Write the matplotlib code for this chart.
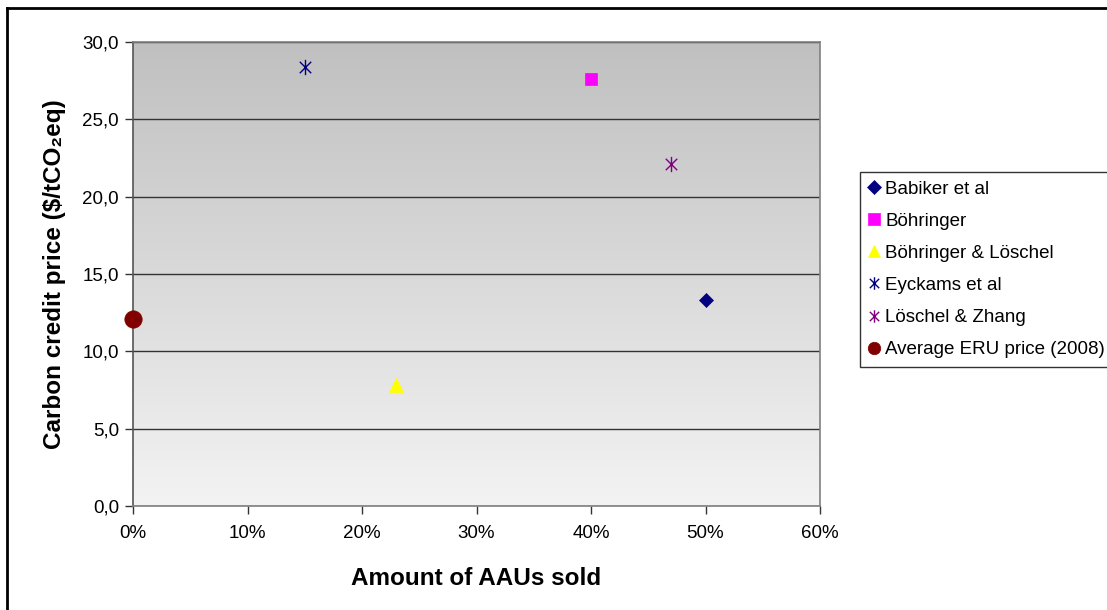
import numpy as np
import matplotlib.pyplot as plt
from matplotlib.lines import Line2D
from matplotlib.path import Path
from matplotlib.ticker import FuncFormatter, PercentFormatter

plt.rcParams['font.family'] = ['Liberation Sans', 'DejaVu Sans']

# data
series = ['Babiker et al', 'Böhringer', 'Böhringer & Löschel',
          'Eyckams et al', 'Löschel & Zhang', 'Average ERU price (2008)']
amount_sold = [0.50, 0.40, 0.23, 0.15, 0.47, 0.00]
credit_price = [13.3, 27.6, 7.8, 28.4, 22.1, 12.1]

# Excel style star: vertical bar plus an X
star = Path([(0, -1), (0, 1), (-0.75, -0.75), (0.75, 0.75), (-0.75, 0.75), (0.75, -0.75)],
            [Path.MOVETO, Path.LINETO] * 3)

colors = ['#000080', '#ff00ff', '#ffff00', '#000080', '#800080', '#800000']
markers = ['D', 's', '^', star, star, 'o']
sizes = [7.5, 8, 10, 11, 11, 12.5]
leg_sizes = [7, 8, 9, 9, 9, 9]

fig = plt.figure(figsize=(11.07, 6.1), dpi=100)
ax = fig.add_axes([133 / 1107, 1 - 506 / 610, 687 / 1107, 464 / 610])

# gradient background
grad = np.linspace(0, 1, 256).reshape(-1, 1)
ax.imshow(grad, extent=[0, 0.6, 0, 30], aspect='auto', origin='lower',
          cmap=plt.matplotlib.colors.LinearSegmentedColormap.from_list(
              'g', ['#f3f3f3', '#c0c0c0']), zorder=0)

for s, xv, yv, c, m, ms in zip(series, amount_sold, credit_price, colors, markers, sizes):
    ax.plot([xv], [yv], linestyle='none', marker=m, color=c, markersize=ms,
            markeredgewidth=1.0 if isinstance(m, Path) else 0.5,
            markeredgecolor=c, label=s, zorder=5, clip_on=False)

ax.set_xlim(0, 0.6)
ax.set_ylim(0, 30)
ax.set_xticks(np.arange(0, 0.61, 0.1))
ax.set_yticks(np.arange(0, 31, 5))
ax.xaxis.set_major_formatter(PercentFormatter(1.0, decimals=0))
ax.yaxis.set_major_formatter(FuncFormatter(lambda v, p: f'{v:.1f}'.replace('.', ',')))
ax.tick_params(axis='both', direction='out', length=6, width=1, labelsize=13.5,
               color='#333333')
ax.tick_params(axis='x', pad=8)
ax.tick_params(axis='y', pad=4)
ax.grid(axis='y', color='#333333', linewidth=1)
ax.set_axisbelow(True)
for sp in ax.spines.values():
    sp.set_color('#808080')
    sp.set_linewidth(1.2)
ax.spines['left'].set_color('#555555')

ax.set_xlabel('Amount of AAUs sold', fontsize=17.5, fontweight='bold', labelpad=18)
ax.set_ylabel('Carbon credit price ($/tCO₂eq)', fontsize=17.5, fontweight='bold', labelpad=12)

leg = ax.legend(loc='upper left', bbox_to_anchor=(860 / 1107, 1 - 172 / 610),
                bbox_transform=fig.transFigure, fontsize=13.5, frameon=True,
                fancybox=False, edgecolor='black', handlelength=0.6,
                handletextpad=0.3, labelspacing=0.8, borderpad=0.45,
                borderaxespad=0)
leg.get_frame().set_linewidth(1)
for h, ls in zip(leg.legend_handles, leg_sizes):
    h.set_markersize(ls)

# outer chart border (top and left visible)
fig.add_artist(Line2D([7 / 1107, 7 / 1107], [0, 1 - 8 / 610], color='black',
                      linewidth=2, transform=fig.transFigure))
fig.add_artist(Line2D([7 / 1107, 1], [1 - 8 / 610, 1 - 8 / 610], color='black',
                      linewidth=2, transform=fig.transFigure))

fig.savefig('out.png', dpi=100)
